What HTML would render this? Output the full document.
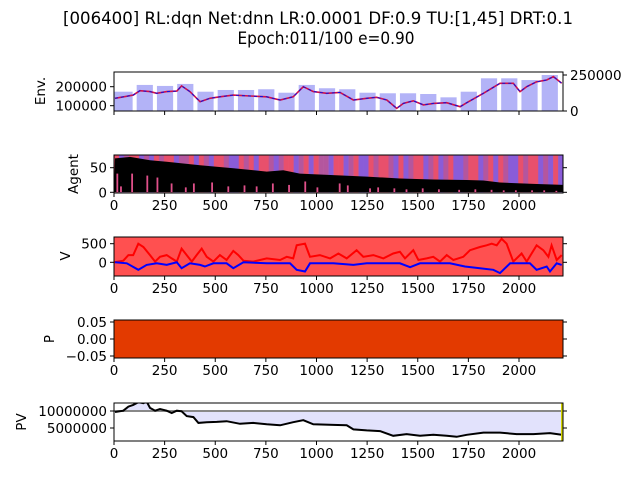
<!DOCTYPE html>
<html><head><meta charset="utf-8"><style>
html,body{margin:0;padding:0;background:#fff}
svg{display:block}
text{font-family:"DejaVu Sans","Liberation Sans",sans-serif;fill:#000}
</style></head><body>
<svg id="c" width="640" height="480" viewBox="0 0 640 480">
<text x="318" y="24" font-size="16.5" text-anchor="middle" textLength="510" lengthAdjust="spacingAndGlyphs">[006400] RL:dqn Net:dnn LR:0.0001 DF:0.9 TU:[1,45] DRT:0.1</text>
<text x="326" y="44" font-size="16.5" text-anchor="middle" textLength="177" lengthAdjust="spacingAndGlyphs">Epoch:011/100 e=0.90</text>
</svg>
<script>
// ---- data ----
const xTicks = [0,250,500,750,1000,1250,1500,1750,2000];
const priceSteps = [5,95,128,178,211,260,310,334,375,425,474,523,589,672,754,820,885,935,984,1050,1116,1182,1248,1297,1347,1396,1429,1478,1528,1577,1643,1709,1742,1824,1906,1972,2005,2038,2087,2137,2170,2211];
const priceValues = [139000,156000,179000,174000,165000,174000,177000,204000,174000,121000,139000,147000,156000,151000,147000,130000,147000,200000,174000,165000,170000,130000,139000,144000,130000,86000,112000,126000,104000,112000,116000,95000,116000,165000,218000,218000,174000,200000,226000,235000,253000,218000];
const volumeBlocks = [134000,181000,174000,188000,134000,146000,146000,151000,127000,181000,158000,151000,127000,123000,123000,118000,95000,134000,227000,227000,215000,250000];
const agentSteps = [5,79,178,260,425,589,754,836,918,1083,1248,1412,1577,1742,1824,1906,2071,2219];
const agentValues = [69,72,65,62,55,49,42,45,38,35,32,28,26,25,24,20,17,15];
const spikeSteps = [12,30,85,160,210,280,350,390,480,560,640,700,780,860,940,1000,1110,1150,1260,1300,1380,1440,1520,1600,1700,1780,1860,1920,1980,2060,2120,2180];
const spikeValues = [38,12,38,34,30,18,10,18,20,12,14,12,18,15,22,10,18,14,8,10,8,6,8,6,5,6,5,4,4,4,4,3];
const actionPattern = "RBMRRBMBRMRRBMMRBRMBRRMBBRMRBRRMBMRRBMRBRMMBRRBMRBBRMRRMBRBMRRBMRBMRBBMRRBMRBRMBBRMRRBMBRB";
const vRedSteps = [0,46,71,95,120,145,178,203,227,260,285,310,334,359,384,408,433,458,491,523,556,589,614,639,688,754,820,853,885,902,943,968,1017,1067,1108,1149,1198,1231,1281,1330,1379,1412,1437,1478,1503,1544,1577,1610,1643,1676,1725,1758,1807,1840,1865,1890,1914,1939,1972,2013,2038,2087,2120,2145,2161,2186,2211];
const vRedValues = [0,44,193,193,500,412,193,18,149,193,105,18,368,193,18,193,368,149,18,193,61,307,193,44,18,105,61,149,105,456,500,149,193,105,237,105,324,149,193,105,237,281,105,324,61,105,149,18,193,61,149,324,412,456,500,456,631,500,18,237,18,456,324,149,456,61,193];
const vBlueSteps = [5,63,120,161,211,260,310,334,375,425,449,491,556,589,639,754,869,902,943,968,1083,1182,1248,1412,1462,1511,1659,1733,1807,1873,1906,1956,2054,2087,2137,2153,2186,2211];
const vBlueValues = [0,-26,-202,-70,-26,-70,0,-158,-26,-70,-114,-26,-26,-158,0,-26,-26,-202,-246,-26,-26,-70,-26,-26,-131,-26,-26,-114,-158,-202,-289,-26,-26,-202,-114,-246,-26,-70];
const pvSteps = [5,46,71,95,120,145,161,178,203,227,260,285,310,334,359,392,417,458,507,556,622,688,754,820,885,935,984,1083,1149,1182,1248,1314,1379,1445,1511,1577,1643,1692,1742,1824,1906,1988,2071,2153,2211];
const pvValues = [9.7e6,10.1e6,11.3e6,11.8e6,12.6e6,12.3e6,12.8e6,10.9e6,10.1e6,10.6e6,10.1e6,9.4e6,10.1e6,9.9e6,8.5e6,8.2e6,6.5e6,6.7e6,6.8e6,7.0e6,6.25e6,6.5e6,6.1e6,5.8e6,6.7e6,7.3e6,6.1e6,5.9e6,5.8e6,4.6e6,4.3e6,4.1e6,2.7e6,3.2e6,2.7e6,3.0e6,2.7e6,2.4e6,3.0e6,3.65e6,3.65e6,3.2e6,3.2e6,3.5e6,3.0e6];
const pvBase = 10000000;

// ---- axes ----
const X0=114,X1=563;
const xs = i => X0 + i*0.2025;
const P = [{t:72,b:111},{t:155,b:193},{t:237,b:276},{t:320,b:358},{t:403,b:441}];
const yEnv = v => 105.7 - (v-100000)*0.00019;
const yVol = v => 111 - v*0.000144;
const yAg = v => 192.3 - v*0.492;
const yV = v => 262.3 - v*0.0372;
const yP = v => 339 - v*340;
const yPV = v => 428 - (v-5e6)*3.4e-6;

const svg = document.getElementById('c');
const NS='http://www.w3.org/2000/svg';
function mk(tag, attrs, parent){const e=document.createElementNS(NS,tag);for(const k in attrs)e.setAttribute(k,attrs[k]);(parent||svg).appendChild(e);return e;}
function clip(id,p){const cp=mk('clipPath',{id:id});mk('rect',{x:X0,y:p.t,width:X1-X0,height:p.b-p.t},cp);}
P.forEach((p,i)=>clip('cp'+i,p));
function pts(steps,vals,fy){return steps.map((s,k)=>xs(s).toFixed(1)+','+fy(vals[k]).toFixed(1)).join(' ');}

// Panel 1 env
const g1 = mk('g',{'clip-path':'url(#cp0)'});


volumeBlocks.forEach((v,k)=>{
  const s = k===0?0:k*100+12, e=(k+1)*100-8;
  const r=mk('rect',{x:xs(s),y:yVol(v),width:xs(Math.min(e,2218))-xs(s),height:111-yVol(v),fill:'#b3b3f7'},g1);
  
  
});
const pl1=mk('polyline',{points:pts(priceSteps,priceValues,yEnv),fill:'none',stroke:'#d0104a','stroke-width':1.6},g1);


const pl1b=mk('polyline',{points:pts(priceSteps,priceValues,yEnv),fill:'none',stroke:'#1010e0','stroke-width':1,'stroke-dasharray':'3 3'},g1);



// Panel 2 agent
const g2 = mk('g',{'clip-path':'url(#cp1)'});


const colMap={R:'#e8506c',B:'#8a5cd8',M:'#b4569e'};
const bw=2218/actionPattern.length;
for(let k=0;k<actionPattern.length;k++){
  const r=mk('rect',{x:xs(k*bw),y:155,width:xs((k+1)*bw)-xs(k*bw)+0.3,height:38,fill:colMap[actionPattern[k]]},g2);
  
  
}
const ap = agentSteps.map((s,k)=>xs(s).toFixed(1)+','+yAg(agentValues[k]).toFixed(1));
const ag=mk('polygon',{points:xs(0)+','+yAg(0)+' '+ap.join(' ')+' '+xs(2218)+','+yAg(0),fill:'#000'},g2);


mk('rect',{x:X0,y:yAg(0),width:X1-X0,height:193-yAg(0),fill:'#fff'},g2);
spikeSteps.forEach((s,k)=>{
  const r=mk('rect',{x:xs(s),y:yAg(spikeValues[k]),width:1.8,height:yAg(0)-yAg(spikeValues[k]),fill:'#e0508a'},g2);
  
  
});

// Panel 3 V
const g3 = mk('g',{'clip-path':'url(#cp2)'});


mk('rect',{x:X0,y:237,width:X1-X0,height:39,fill:'#ff5050'},g3);
const vr=mk('polyline',{points:pts(vRedSteps,vRedValues,yV),fill:'none',stroke:'#ff0000','stroke-width':2},g3);


const vb=mk('polyline',{points:pts(vBlueSteps,vBlueValues,yV),fill:'none',stroke:'#0000ff','stroke-width':2},g3);



// Panel 4 P
const pr=mk('rect',{x:X0,y:320,width:X1-X0,height:38,fill:'#e33a00'});



// Panel 5 PV
const g5 = mk('g',{'clip-path':'url(#cp4)'});


const pp = pvSteps.map((s,k)=>xs(s).toFixed(1)+','+yPV(pvValues[k]).toFixed(1));
const fa=mk('polygon',{points:xs(pvSteps[0])+','+yPV(pvBase)+' '+pp.join(' ')+' '+xs(pvSteps[pvSteps.length-1])+','+yPV(pvBase),fill:'#e2e2fc'},g5);


const bl=mk('line',{x1:X0,x2:X1,y1:yPV(pvBase),y2:yPV(pvBase),stroke:'#888','stroke-width':2},g5);


const pvl=mk('polyline',{points:pp.join(' '),fill:'none',stroke:'#000','stroke-width':2},g5);


mk('line',{x1:X1-1,x2:X1-1,y1:403,y2:441,stroke:'#d4d400','stroke-width':2},g5);

// frames, ticks, labels
function txt(x,y,s,anchor,size,name){const t=mk('text',{x:x,y:y,'font-size':size||13.5,'text-anchor':anchor||'middle'});t.textContent=s;return t;}
P.forEach((p,i)=>{
  const f=mk('rect',{x:X0,y:p.t,width:X1-X0,height:p.b-p.t,fill:'none',stroke:'#000','stroke-width':1});
  
  
  xTicks.forEach(v=>{
    mk('line',{x1:xs(v),x2:xs(v),y1:p.b,y2:p.b+4,stroke:'#000'});
    if(i>0) txt(xs(v),p.b+17,String(v),'middle',13.5,'x-tick-label');
  });
});
function ytick(y,label,i){mk('line',{x1:X0-4,x2:X0,y1:y,y2:y,stroke:'#000'});if(i>0)mk('line',{x1:X1,x2:X1+4,y1:y,y2:y,stroke:'#000'});txt(X0-7,y+5,label,'end',13.5,'y-tick-label');}
ytick(yEnv(200000),'200000',0);ytick(yEnv(100000),'100000',0);
[[yVol(250000),'250000'],[yVol(0),'0']].forEach(a=>{mk('line',{x1:X1,x2:X1+4,y1:a[0],y2:a[0],stroke:'#000'});txt(X1+7,a[0]+5,a[1],'start',13.5,'right-tick-label');});
ytick(yAg(50),'50',1);ytick(yAg(0),'0',1);
ytick(yV(500),'500',2);ytick(yV(0),'0',2);
ytick(yP(0.05),'0.05',3);ytick(yP(0),'0.00',3);ytick(yP(-0.05),'\u22120.05',3);
ytick(yPV(10000000),'10000000',4);ytick(yPV(5000000),'5000000',4);
function ylab(x,y,s,name){const t=txt(x,y,s,'middle',13.5,name);t.setAttribute('transform','rotate(-90 '+x+' '+y+')');}
ylab(45,91,'Env.','y-axis-title-env');
ylab(78,174,'Agent','y-axis-title-agent');
ylab(70,256,'V','y-axis-title-v');
ylab(54,339,'P','y-axis-title-p');
ylab(26,422,'PV','y-axis-title-pv');
</script>
</body></html>
